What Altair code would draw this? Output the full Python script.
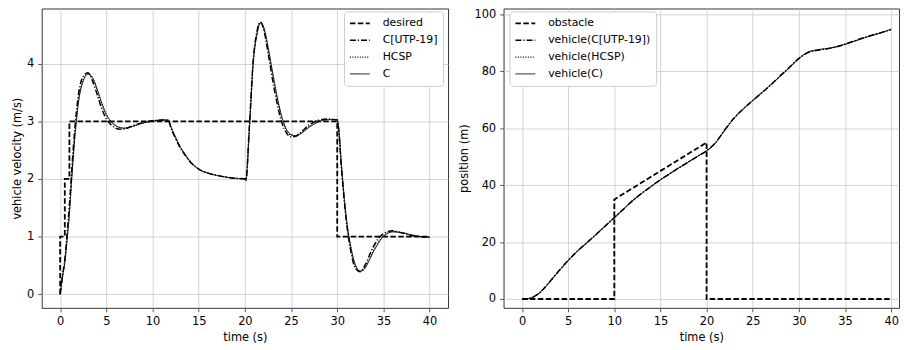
import altair as alt
import pandas as pd

# ---------------- velocity panel data ----------------
t_vel = [0, 0.25, 0.5, 0.75, 1.0, 1.25, 1.5, 1.75, 2.0, 2.5, 3.0, 3.5, 4.0, 4.5, 5.0, 5.5,
         6.0, 6.5, 7.0, 8.0, 9.0, 10.0, 11.0, 11.7, 12.0, 12.5, 13.0, 13.5, 14.0, 15.0,
         16.0, 17.0, 18.0, 19.0, 20.0, 20.1, 20.5, 20.9, 21.3, 21.7, 22.1, 22.5, 23.0,
         23.5, 24.0, 24.5, 25.0, 25.5, 26.0, 27.0, 28.0, 29.0, 30.0, 30.1, 30.5, 31.0,
         31.5, 32.0, 32.5, 33.0, 33.5, 34.0, 35.0, 36.0, 37.0, 38.0, 39.0, 40.0]
vel_C = [0, 0.3, 0.55, 0.95, 1.4, 2.0, 2.55, 3.0, 3.35, 3.7, 3.82, 3.76, 3.56, 3.32, 3.12, 3.0,
         2.93, 2.89, 2.88, 2.92, 2.97, 3.0, 3.02, 3.02, 2.9, 2.72, 2.56, 2.43, 2.32, 2.17,
         2.1, 2.06, 2.03, 2.01, 2.0, 1.97, 2.9, 4.0, 4.5, 4.71, 4.6, 4.3, 3.85,
         3.42, 3.08, 2.86, 2.77, 2.75, 2.78, 2.9, 2.99, 3.03, 3.03, 2.95, 2.15, 1.3,
         0.8, 0.5, 0.4, 0.45, 0.6, 0.76, 1.0, 1.08, 1.07, 1.03, 1.0, 0.99]
vel_UTP = [0, 0.32, 0.6, 1.05, 1.55, 2.15, 2.7, 3.15, 3.48, 3.78, 3.84, 3.7, 3.47, 3.22, 3.04, 2.94,
           2.88, 2.86, 2.87, 2.93, 2.98, 3.01, 3.02, 3.02, 2.88, 2.7, 2.54, 2.42, 2.31, 2.17,
           2.1, 2.06, 2.03, 2.01, 2.0, 1.98, 2.95, 4.05, 4.55, 4.72, 4.55, 4.2, 3.72,
           3.3, 2.98, 2.8, 2.73, 2.74, 2.8, 2.94, 3.02, 3.04, 3.02, 2.94, 2.1, 1.25,
           0.72, 0.44, 0.39, 0.5, 0.68, 0.85, 1.05, 1.1, 1.06, 1.02, 1.0, 0.99]
vel_HCSP = [0, 0.3, 0.56, 0.96, 1.42, 2.02, 2.57, 3.02, 3.37, 3.71, 3.82, 3.75, 3.55, 3.31, 3.11, 2.99,
            2.92, 2.89, 2.88, 2.92, 2.97, 3.0, 3.02, 3.02, 2.9, 2.71, 2.55, 2.43, 2.32, 2.17,
            2.1, 2.06, 2.03, 2.01, 2.0, 1.97, 2.92, 4.02, 4.52, 4.71, 4.58, 4.27, 3.82,
            3.4, 3.06, 2.85, 2.76, 2.75, 2.79, 2.91, 3.0, 3.03, 3.03, 2.95, 2.13, 1.28,
            0.78, 0.48, 0.4, 0.46, 0.62, 0.78, 1.01, 1.09, 1.07, 1.03, 1.0, 0.99]
t_desired = [0, 0, 0.5, 0.5, 1.0, 1.0, 30, 30, 40]
vel_desired = [0, 1, 1, 2, 2, 3, 3, 1, 1]

# ---------------- position panel data ----------------
t_pos = [0, 0.5, 1, 1.5, 2, 2.5, 3, 4, 5, 6, 7, 8, 9, 10, 11, 12, 13, 14, 15, 16, 17, 18,
         19, 20, 20.5, 21, 22, 23, 24, 25, 26, 27, 28, 29, 30, 31, 32, 33, 34, 35, 36,
         37, 38, 39, 40]
pos_C = [0, 0.05, 0.4, 1.2, 2.4, 4.1, 6.0, 9.8, 13.5, 16.8, 19.7, 22.6, 25.6, 28.6, 31.6,
         34.6, 37.2, 39.6, 41.9, 44.0, 46.1, 48.1, 50.1, 52.1, 53.3, 55.0, 59.4, 63.6,
         66.9, 69.8, 72.6, 75.4, 78.4, 81.4, 84.5, 86.8, 87.6, 88.0, 88.6, 89.5, 90.6,
         91.7, 92.7, 93.7, 94.8]
pos_UTP = [0, 0.05, 0.42, 1.25, 2.5, 4.2, 6.1, 9.9, 13.6, 16.8, 19.7, 22.6, 25.6, 28.6, 31.6,
           34.6, 37.2, 39.6, 41.9, 44.0, 46.1, 48.1, 50.1, 52.1, 53.4, 55.1, 59.6, 63.7,
           66.9, 69.7, 72.5, 75.4, 78.5, 81.5, 84.6, 86.6, 87.4, 87.9, 88.6, 89.6, 90.7,
           91.8, 92.8, 93.7, 94.7]
pos_HCSP = [0, 0.05, 0.4, 1.2, 2.4, 4.1, 6.0, 9.8, 13.5, 16.8, 19.7, 22.6, 25.6, 28.6, 31.6,
            34.6, 37.2, 39.6, 41.9, 44.0, 46.1, 48.1, 50.1, 52.1, 53.3, 55.0, 59.5, 63.6,
            66.9, 69.8, 72.6, 75.4, 78.4, 81.4, 84.5, 86.7, 87.5, 88.0, 88.6, 89.5, 90.6,
            91.7, 92.7, 93.7, 94.8]
t_obstacle = [0, 10, 10, 20, 20, 40]
pos_obstacle = [0, 0, 35, 55, 0, 0]

vel_names = ["desired", "C[UTP-19]", "HCSP", "C"]
pos_names = ["obstacle", "vehicle(C[UTP-19])", "vehicle(HCSP)", "vehicle(C)"]
dash_range = [[5.5, 2.5], [6, 2, 1.2, 2], [1, 1.5], [1, 0]]
width_range = [1.8, 0.9, 0.9, 1.1]


def long_df(t, vals, name):
    return pd.DataFrame({"t": t, "y": vals, "series": name, "idx": list(range(len(t)))})


vel_steps = long_df(t_desired, vel_desired, "desired")
vel_curves = pd.concat([
    long_df(t_vel, vel_UTP, "C[UTP-19]"),
    long_df(t_vel, vel_HCSP, "HCSP"),
    long_df(t_vel, vel_C, "C"),
])
pos_steps = long_df(t_obstacle, pos_obstacle, "obstacle")
pos_curves = pd.concat([
    long_df(t_pos, pos_UTP, "vehicle(C[UTP-19])"),
    long_df(t_pos, pos_HCSP, "vehicle(HCSP)"),
    long_df(t_pos, pos_C, "vehicle(C)"),
])

xticks = [0, 5, 10, 15, 20, 25, 30, 35, 40]


def legend(x, y):
    return alt.Legend(title=None, orient="none", legendX=x, legendY=y,
                      symbolType="stroke", symbolSize=400, symbolStrokeColor="black",
                      labelFontSize=11, labelColor="black", labelOffset=12,
                      fillColor="white", strokeColor="#cccccc", cornerRadius=3,
                      padding=5, rowPadding=3, clipHeight=14)


def panel(steps, curves, names, xdom, ydom, yticks, ytitle, w, lx, ly):
    dash = alt.StrokeDash("series:N", scale=alt.Scale(domain=names, range=dash_range),
                          legend=legend(lx, ly))
    sw = alt.StrokeWidth("series:N", scale=alt.Scale(domain=names, range=width_range),
                         legend=legend(lx, ly))
    x = alt.X("t:Q", scale=alt.Scale(domain=xdom, nice=False, zero=False),
              axis=alt.Axis(values=xticks, title="time (s)"))
    y = alt.Y("y:Q", scale=alt.Scale(domain=ydom, nice=False, zero=False),
              axis=alt.Axis(values=yticks, title=ytitle))
    a = alt.Chart(steps).mark_line(color="black").encode(
        x=x, y=y, strokeDash=dash, strokeWidth=sw, order="idx:Q", detail="series:N")
    b = alt.Chart(curves).mark_line(color="black", interpolate="monotone").encode(
        x=x, y=y, strokeDash=dash, strokeWidth=sw, order="idx:Q", detail="series:N")
    return alt.layer(a, b).properties(width=w, height=302)


left = panel(vel_steps, vel_curves, vel_names, [-2, 42], [-0.236, 4.956],
             [0, 1, 2, 3, 4], "vehicle velocity (m/s)", 410, 305, 3)
right = panel(pos_steps, pos_curves, pos_names, [-2, 40.85], [-3.1, 102.1],
              [0, 20, 40, 60, 80, 100], "position (m)", 399, 6, 3)

chart = alt.hconcat(left, right, spacing=9).resolve_scale(
    strokeDash="independent", strokeWidth="independent"
).resolve_legend(strokeDash="independent", strokeWidth="independent").properties(
    padding={"left": 3, "top": -2, "right": 0, "bottom": 0}
).configure(font="DejaVu Sans").configure_view(
    stroke="#333333", strokeWidth=1
).configure_axis(
    domain=False, grid=True, gridColor="#c8c8c8", gridWidth=0.8,
    tickColor="#333333", tickSize=4, tickWidth=0.8,
    labelFontSize=11.5, labelColor="black", labelPadding=4,
    titleFontSize=11.5, titleFontWeight="normal", titleColor="black", titlePadding=4
)

chart.save("out.html", embed_options={"renderer": "svg", "actions": False})
